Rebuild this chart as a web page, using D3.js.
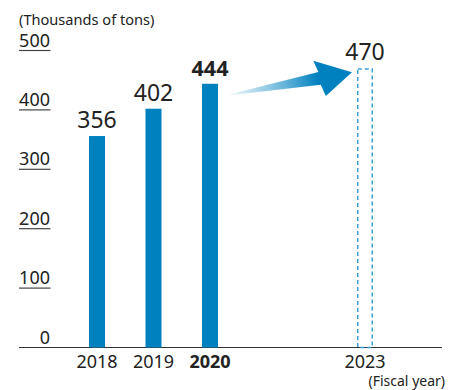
<!DOCTYPE html>
<html>
<head>
<meta charset="utf-8">
<script src="https://cdn.jsdelivr.net/npm/d3@7"></script>
<style>
  html, body { margin: 0; padding: 0; background: #fff; }
  svg { display: block; font-family: "Noto Sans", "Open Sans", sans-serif; }
</style>
</head>
<body>
<svg id="chart" width="459" height="390"></svg>
<script>
// Shipment volume by fiscal year (thousands of tons)
const years = [2018, 2019, 2020];
const values = [356, 402, 444];
const targetYear = 2023;
const targetValue = 470;
const yTicks = [0, 100, 200, 300, 400, 500];
const unitLabel = "(Thousands of tons)";
const axisLabel = "(Fiscal year)";

const blue = "#0081bf";
const svg = d3.select("#chart");

// Piecewise scale: actual years sit close together, the target year further right
const x = d3.scaleLinear().domain([2018, 2020, 2023]).range([97, 210, 365]);
const y = d3.scaleLinear().domain([0, 500]).range([347.5, 50.5]);
const barW = 16;

// Unit label
svg.append("text")
  .attr("x", 19).attr("y", 25)
  .attr("font-size", 14.6).attr("fill", "#222")
  .text(unitLabel);

// Y tick labels with short underlines
const yAxis = svg.append("g");
yTicks.forEach(v => {
  yAxis.append("text")
    .attr("x", 50).attr("y", y(v) - 4)
    .attr("text-anchor", "end")
    .attr("font-size", 18).attr("fill", "#222")
    .text(v);
  if (v > 0) {
    yAxis.append("line")
      .attr("x1", 19).attr("x2", 50.5)
      .attr("y1", y(v)).attr("y2", y(v))
      .attr("stroke", "#444").attr("stroke-width", 1.2);
  }
});

// Baseline
svg.append("line")
  .attr("x1", 19).attr("x2", 442)
  .attr("y1", y(0)).attr("y2", y(0))
  .attr("stroke", "#333").attr("stroke-width", 1.2);

// Actual bars
svg.append("g").selectAll("rect")
  .data(years.map((yr, i) => ({ yr, v: values[i] })))
  .join("rect")
  .attr("x", d => x(d.yr) - barW / 2)
  .attr("width", barW)
  .attr("y", d => y(d.v))
  .attr("height", d => y(0) - y(d.v))
  .attr("fill", blue);

// Value labels (latest year emphasised)
svg.append("g").selectAll("text")
  .data(years.map((yr, i) => ({ yr, v: values[i], last: i === years.length - 1 })))
  .join("text")
  .attr("x", d => x(d.yr))
  .attr("y", d => y(d.v) - 8)
  .attr("text-anchor", "middle")
  .attr("font-size", d => d.last ? 21.5 : 23)
  .attr("font-weight", d => d.last ? "bold" : "normal")
  .attr("fill", "#222")
  .text(d => d.v);

// Target bar (dashed outline)
svg.append("rect")
  .attr("x", x(targetYear) - barW / 2 + 0.75)
  .attr("width", barW - 1.5)
  .attr("y", y(targetValue) + 0.75)
  .attr("height", y(0) - y(targetValue) - 0.75)
  .attr("fill", "none")
  .attr("stroke", "#3a9fd3")
  .attr("stroke-width", 1.5)
  .attr("stroke-dasharray", "4,3");

svg.append("text")
  .attr("x", x(targetYear))
  .attr("y", y(targetValue) - 8)
  .attr("text-anchor", "middle")
  .attr("font-size", 23).attr("fill", "#222")
  .text(targetValue);

// Year labels
const allYears = years.concat([targetYear]);
svg.append("g").selectAll("text")
  .data(allYears)
  .join("text")
  .attr("x", d => x(d))
  .attr("y", 368)
  .attr("text-anchor", "middle")
  .attr("font-size", 18)
  .attr("font-weight", d => d === 2020 ? "bold" : "normal")
  .attr("fill", "#222")
  .text(d => d);

svg.append("text")
  .attr("x", 445).attr("y", 386)
  .attr("text-anchor", "end")
  .attr("font-size", 14).attr("fill", "#222")
  .text(axisLabel);

// Growth arrow from the latest actual toward the target
const tail = [x(2020) + 20, y(values[2]) + 11];
const tip = [x(targetYear) - 13, y(targetValue) + 4];
const dx = tip[0] - tail[0], dy = tip[1] - tail[1];
const len = Math.hypot(dx, dy);
const ang = Math.atan2(dy, dx) * 180 / Math.PI;
const headLen = 33, headHalf = 18.5, shaftHalf = 6.5;

const defs = svg.append("defs");
const grad = defs.append("linearGradient")
  .attr("id", "arrowGrad")
  .attr("gradientUnits", "userSpaceOnUse")
  .attr("x1", 0).attr("y1", 0).attr("x2", len).attr("y2", 0);
grad.append("stop").attr("offset", 0).attr("stop-color", blue).attr("stop-opacity", 0.05);
grad.append("stop").attr("offset", 0.45).attr("stop-color", blue).attr("stop-opacity", 0.6);
grad.append("stop").attr("offset", 0.72).attr("stop-color", blue).attr("stop-opacity", 1);
grad.append("stop").attr("offset", 1).attr("stop-color", blue).attr("stop-opacity", 1);

const hb = len - headLen;
const arrowPts = [
  [0, -0.5], [hb, -shaftHalf], [hb - 3, -headHalf], [len, 0],
  [hb + 3, headHalf], [hb, shaftHalf], [0, 0.5]
];
svg.append("path")
  .attr("transform", `translate(${tail[0]},${tail[1]}) rotate(${ang})`)
  .attr("d", d3.line()(arrowPts) + "Z")
  .attr("fill", "url(#arrowGrad)");
</script>
</body>
</html>
